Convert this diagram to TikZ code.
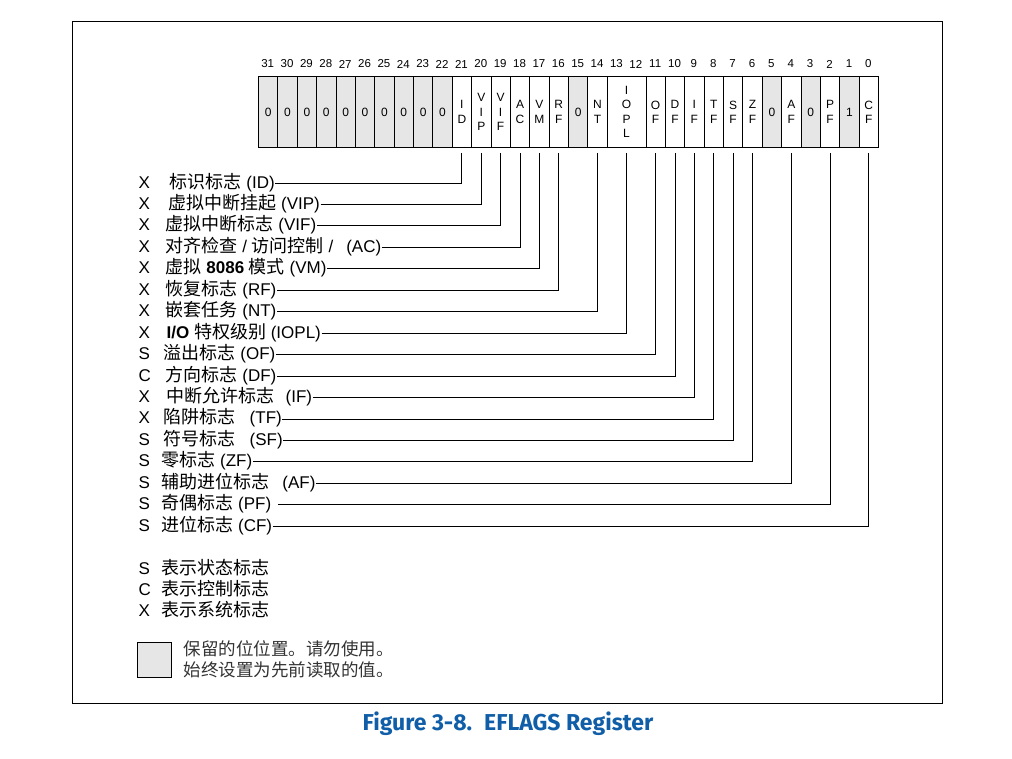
\documentclass[tikz,border=0pt]{standalone}
\usepackage{fontspec}
\setmainfont{Liberation Sans}
\newfontfamily\zhfont{Noto Sans CJK SC}
\newfontfamily\capfont{Fira Sans}
\newcommand{\zh}[1]{{\zhfont\fontsize{18}{20}\selectfont #1}}
\definecolor{capblue}{RGB}{16,94,168}
\definecolor{resgray}{RGB}{230,230,230}

\begin{document}
\begin{tikzpicture}[x=1pt,y=-1pt,
  cell/.style={draw, line width=0.9pt, minimum width=19.375pt, minimum height=71.3pt,
    inner sep=0pt, anchor=north west, align=center,
    font=\fontsize{12}{14.5}\selectfont},
  rcell/.style={cell, fill=resgray},
  bitnum/.style={inner sep=0pt, font=\fontsize{11.5}{13}\selectfont},
  lab/.style={anchor=west, inner xsep=0.5pt, inner ysep=0pt,
    text height=12pt, text depth=2pt, font=\fontsize{17}{20}\selectfont},
  conn/.style={line width=0.9pt},
]
\useasboundingbox (0,0) rectangle (1012,758);

% outer frame
\draw[line width=1.3pt] (72.7,21.7) rectangle (942.3,703.3);

% bit numbers
\foreach \b in {0,...,31}
  \node[bitnum] (n\b) at ({878-(\b+0.5)*19.375},64) {\b};

% register cells
\foreach \b/\t/\s in {31/0/rcell,30/0/rcell,29/0/rcell,28/0/rcell,27/0/rcell,
    26/0/rcell,25/0/rcell,24/0/rcell,23/0/rcell,22/0/rcell,
    21/{I\\D}/cell,20/{V\\I\\P}/cell,19/{V\\I\\F}/cell,18/{A\\C}/cell,
    17/{V\\M}/cell,16/{R\\F}/cell,15/0/rcell,14/{N\\T}/cell,
    11/{O\\F}/cell,10/{D\\F}/cell,9/{I\\F}/cell,8/{T\\F}/cell,
    7/{S\\F}/cell,6/{Z\\F}/cell,5/0/rcell,4/{A\\F}/cell,3/0/rcell,
    2/{P\\F}/cell,1/1/rcell,0/{C\\F}/cell}
  \node[\s] (c\b) at ({878-(\b+1)*19.375},76) {\t};
\node[cell, minimum width=38.75pt] (c13) at ({878-14*19.375},76) {I\\O\\P\\L};

% tick points just below the register
\foreach \b in {21,20,19,18,17,16,14,13,11,10,9,8,7,6,4,2,0}
  \coordinate (t\b) at ([yshift=-5pt]c\b.south);

% flag descriptions
\node[lab] (f21) at (138,183.00) {X};
\node[lab] (l21) at (169,183.00) {\zh{标识标志} (ID)};
\node[lab] (f20) at (138,204.45) {X};
\node[lab] (l20) at (167.7,204.45) {\zh{虚拟中断挂起} (VIP)};
\node[lab] (f19) at (138,225.90) {X};
\node[lab] (l19) at (165,225.90) {\zh{虚拟中断标志} (VIF)};
\node[lab] (f18) at (138,247.35) {X};
\node[lab] (l18) at (165,247.35) {\zh{对齐检查} / \zh{访问控制} /\hspace{13pt}(AC)};
\node[lab] (f17) at (138,268.80) {X};
\node[lab] (l17) at (165,268.80) {\zh{虚拟} \textbf{8086} \zh{模式} (VM)};
\node[lab] (f16) at (138,290.25) {X};
\node[lab] (l16) at (165,290.25) {\zh{恢复标志} (RF)};
\node[lab] (f14) at (138,311.70) {X};
\node[lab] (l14) at (165,311.70) {\zh{嵌套任务} (NT)};
\node[lab] (f13) at (138,333.15) {X};
\node[lab] (l13) at (166,333.15) {\textbf{I/O} \zh{特权级别} (IOPL)};
\node[lab] (f11) at (138,354.60) {S};
\node[lab] (l11) at (163,354.60) {\zh{溢出标志} (OF)};
\node[lab] (f10) at (138,376.05) {C};
\node[lab] (l10) at (165,376.05) {\zh{方向标志} (DF)};
\node[lab] (f9) at (138,397.50) {X};
\node[lab] (l9) at (166,397.50) {\zh{中断允许标志}\hspace{11pt}(IF)};
\node[lab] (f8) at (138,418.95) {X};
\node[lab] (l8) at (163,418.95) {\zh{陷阱标志}\hspace{14pt}(TF)};
\node[lab] (f7) at (138,440.40) {S};
\node[lab] (l7) at (163,440.40) {\zh{符号标志}\hspace{14pt}(SF)};
\node[lab] (f6) at (138,461.85) {S};
\node[lab] (l6) at (160.7,461.85) {\zh{零标志} (ZF)};
\node[lab] (f4) at (138,483.30) {S};
\node[lab] (l4) at (160.7,483.30) {\zh{辅助进位标志}\hspace{13pt}(AF)};
\node[lab] (f2) at (138,504.75) {S};
\node[lab] (l2) at (160.7,504.75) {\zh{奇偶标志} (PF)};
\node[lab] (f0) at (138,526.20) {S};
\node[lab] (l0) at (160.7,526.20) {\zh{进位标志} (CF)};

% connectors from descriptions to bits
\foreach \b in {21,20,19,18,17,16,14,13,11,10,9,8,7,6,4,0}
  \draw[conn] (l\b.east) -| (t\b);
\draw[conn] ([xshift=6pt]l2.east) -| (t2);

% legend
\node[lab] (ks) at (138,569) {S};
\node[lab] (kst) at (160.7,569) {\zh{表示状态标志}};
\node[lab] (kc) at (138,590) {C};
\node[lab] (kct) at (160.7,590) {\zh{表示控制标志}};
\node[lab] (kx) at (138,611) {X};
\node[lab] (kxt) at (160.7,611) {\zh{表示系统标志}};

\node[draw, line width=0.9pt, fill=resgray, minimum width=33.4pt, minimum height=35pt,
  inner sep=0pt, anchor=north west] (rbox) at (137.3,642.3) {};
\node[anchor=west, inner sep=0pt, align=left, text=black!80,
  font=\zhfont\fontsize{17.5}{21.5}\selectfont] (rtext) at (183.3,659.5)
  {保留的位位置。请勿使用。\\始终设置为先前读取的值。};

% caption
\node[inner sep=0pt, text=capblue, font=\capfont\bfseries\fontsize{23}{26}\selectfont]
  (cap) at (508,724) {Figure 3-8.\hspace{12pt}EFLAGS Register};
\end{tikzpicture}
\end{document}
